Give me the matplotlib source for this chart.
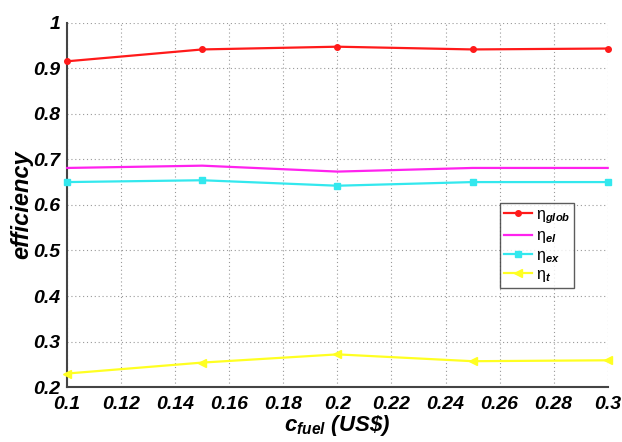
import matplotlib
matplotlib.use("Agg")
import matplotlib.pyplot as plt

# Fuel cost (US$) and the resulting efficiencies
c_fuel = [0.10, 0.15, 0.20, 0.25, 0.30]
eta_glob = [0.915, 0.941, 0.947, 0.941, 0.943]
eta_el = [0.681, 0.686, 0.673, 0.681, 0.681]
eta_ex = [0.650, 0.654, 0.642, 0.650, 0.650]
eta_t = [0.230, 0.254, 0.272, 0.257, 0.259]

x_ticks = [0.10, 0.12, 0.14, 0.16, 0.18, 0.20, 0.22, 0.24, 0.26, 0.28, 0.30]
x_ticklabels = ["0.1", "0.12", "0.14", "0.16", "0.18", "0.2", "0.22", "0.24", "0.26", "0.28", "0.3"]
y_ticks = [0.2, 0.3, 0.4, 0.5, 0.6, 0.7, 0.8, 0.9, 1.0]
y_ticklabels = ["0.2", "0.3", "0.4", "0.5", "0.6", "0.7", "0.8", "0.9", "1"]

plt.rcParams["font.family"] = ["Liberation Sans", "DejaVu Sans"]
plt.rcParams["mathtext.fontset"] = "custom"
plt.rcParams["mathtext.it"] = "Liberation Sans:italic:bold"
plt.rcParams["mathtext.rm"] = "Liberation Sans"
plt.rcParams["mathtext.bf"] = "Liberation Sans:bold"

fig = plt.figure(figsize=(6.22, 4.42), dpi=100)
ax = fig.add_axes([0.108, 0.124, 0.869, 0.825])

lw = 1.6
ax.plot(c_fuel, eta_glob, color="#ff1a1a", lw=lw, marker="o", ms=4,
        label=r"η$_{\mathit{glob}}$", clip_on=False, zorder=3)
ax.plot(c_fuel, eta_el, color="#ff22ee", lw=lw,
        label=r"η$_{\mathit{el}}$", clip_on=False, zorder=3)
ax.plot(c_fuel, eta_ex, color="#33e8ee", lw=lw, marker="s", ms=4.5,
        label=r"η$_{\mathit{ex}}$", clip_on=False, zorder=3)
ax.plot(c_fuel, eta_t, color="#ffff22", lw=lw, marker="<", ms=5.5,
        label=r"η$_{\mathit{t}}$", clip_on=False, zorder=3)

ax.set_xlim(0.1, 0.3)
ax.set_ylim(0.2, 1.0)
ax.set_xticks(x_ticks)
ax.set_xticklabels(x_ticklabels)
ax.set_yticks(y_ticks)
ax.set_yticklabels(y_ticklabels)

for lab in ax.get_xticklabels() + ax.get_yticklabels():
    lab.set_fontweight("bold")
    lab.set_fontstyle("italic")
    lab.set_fontsize(14)

ax.tick_params(axis="x", length=0, pad=6)
ax.tick_params(axis="y", length=0, pad=5)
ax.grid(True, color="#999999", linestyle=(0, (1, 2.5)), linewidth=0.8)

for side in ("top", "right"):
    ax.spines[side].set_visible(False)
for side in ("left", "bottom"):
    ax.spines[side].set_linewidth(1.5)
    ax.spines[side].set_color("#444444")

ax.set_ylabel("efficiency", fontsize=17, fontweight="bold", fontstyle="italic", labelpad=0)
ax.set_xlabel(r"$\mathit{c}_{\mathit{fuel}}$ (US\$)", fontsize=16,
              fontweight="bold", fontstyle="italic", labelpad=0)

leg = ax.legend(loc="upper left", bbox_to_anchor=(0.80, 0.505), fontsize=11.5,
                frameon=True, fancybox=False, handlelength=1.8,
                borderpad=0.25, labelspacing=0.15, handletextpad=0.2,
                borderaxespad=0)
leg.get_frame().set_edgecolor("#333333")
leg.get_frame().set_linewidth(1.0)

fig.savefig("out.png", dpi=100)
